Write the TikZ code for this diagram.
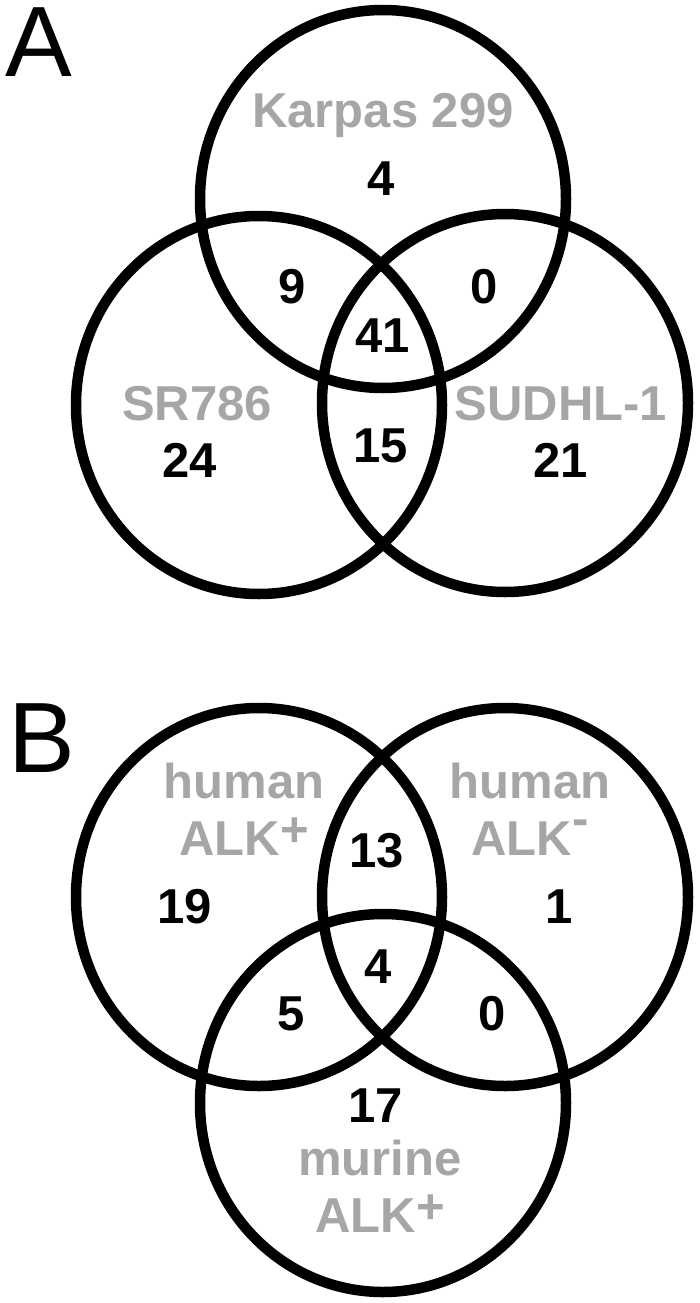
\documentclass[tikz,border=0pt]{standalone}
\usepackage{fontspec}
\setmainfont{Liberation Sans}
\usetikzlibrary{shapes.geometric}
\definecolor{lblgray}{RGB}{166,166,166}

\begin{document}
\begin{tikzpicture}[x=1pt, y=-1pt,
  num/.style={anchor=base, inner sep=0pt, font=\bfseries\fontsize{49}{57}\selectfont},
  setname/.style={num, text=lblgray, align=center},
  panel/.style={anchor=base west, inner sep=0pt, font=\fontsize{100}{100}\selectfont}]

\useasboundingbox (0,0) rectangle (699,1303);

\node[panel] (P_A) at (5,77)  {A};
\node[panel] (P_B) at (8,772) {B};

\begin{scope}[ellipse, line width=10.5pt, minimum width=366pt, minimum height=378pt, inner sep=0pt]
  \node[draw] (C_Karpas) at (383,199) {};
  \node[draw] (C_SR)     at (259,405) {};
  \node[draw] (C_SUDHL)  at (505,403) {};
\end{scope}

\node[setname] (L_Karpas) at (383,128) {Karpas 299};
\node[setname] (L_SR)     at (197,420) {SR786};
\node[setname] (L_SUDHL)  at (561,420) {SUDHL-1};

\node[num] (N_K)   at (381,195) {4};
\node[num] (N_KS)  at (292,303) {9};
\node[num] (N_KU)  at (484,303) {0};
\node[num] (N_KSU) at (383,352) {41};
\node[num] (N_SU)  at (381,462) {15};
\node[num] (N_S)   at (190,477) {24};
\node[num] (N_U)   at (561,477) {21};

\begin{scope}[ellipse, line width=10.5pt, minimum width=366pt, minimum height=378pt, inner sep=0pt]
  \node[draw] (C_hpos) at (259, 897) {};
  \node[draw] (C_hneg) at (505, 897) {};
  \node[draw] (C_mpos) at (383,1103) {};
\end{scope}

% base of a two-line label is the baseline of its last line
\node[setname] (L_hpos) at (244, 855) {human\\ALK\raisebox{9pt}{+}};
\node[setname] (L_hneg) at (530, 855) {human\\ALK\raisebox{20pt}{-}};
\node[setname] (L_mpos) at (380,1232) {murine\\ALK\raisebox{9pt}{+}};

\node[num] (N_hp)    at (185, 923) {19};
\node[num] (N_hn)    at (559, 923) {1};
\node[num] (N_hphn)  at (377, 867) {13};
\node[num] (N_all)   at (378, 983) {4};
\node[num] (N_hpmp)  at (291,1030) {5};
\node[num] (N_hnmp)  at (492,1030) {0};
\node[num] (N_mp)    at (376,1122) {17};

\end{tikzpicture}
\end{document}
